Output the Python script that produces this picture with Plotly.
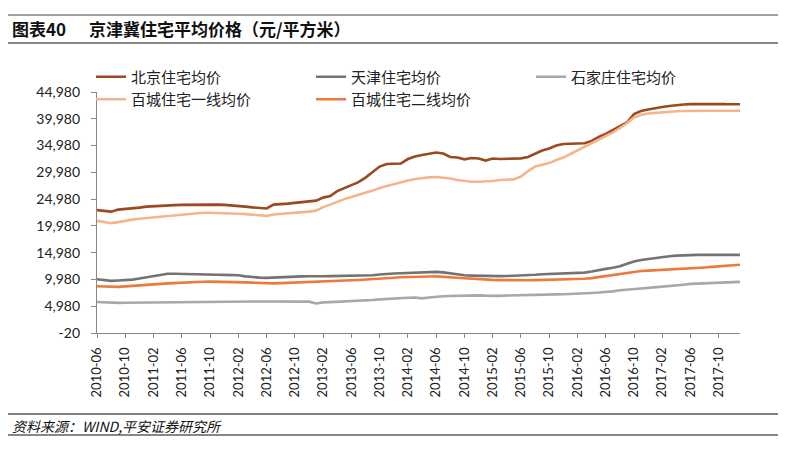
import pandas as pd
import plotly.graph_objects as go

months = pd.date_range("2010-06-01", periods=92, freq="MS").strftime("%Y-%m").tolist()

tick_labels = ["2010-06", "2010-10", "2011-02", "2011-06", "2011-10", "2012-02", "2012-06",
               "2012-10", "2013-02", "2013-06", "2013-10", "2014-02", "2014-06", "2014-10",
               "2015-02", "2015-06", "2015-10", "2016-02", "2016-06", "2016-10", "2017-02",
               "2017-06", "2017-10"]
y_ticks = [-20, 4980, 9980, 14980, 19980, 24980, 29980, 34980, 39980, 44980]
y_tick_text = ["-20", "4,980", "9,980", "14,980", "19,980", "24,980", "29,980",
               "34,980", "39,980", "44,980"]

beijing = [22930, 22830, 22640, 23020, 23110, 23300, 23390, 23580, 23670, 23800,
           23860, 23860, 23900, 23930, 23970, 23990, 23990, 23950, 23900, 23820,
           23710, 23580, 23430, 23300, 23240, 23950, 23990, 24140, 24270, 24420,
           24510, 24700, 25260, 25540, 26480, 27040, 27510, 28160, 29000, 30030,
           31060, 31530, 31530, 31620, 32460, 32930, 33210, 33400, 33680, 33490,
           32840, 32740, 32410, 32650, 32560, 32180, 32560, 32460, 32460, 32500,
           32590, 32840, 33400, 34050, 34430, 34990, 35270, 35300, 35360, 35420,
           35830, 36570, 37140, 37890, 38540, 39290, 40880, 41440, 41720, 42000,
           42190, 42370, 42560, 42650, 42710, 42750, 42750, 42750, 42750, 42710,
           42690, 42690]

tianjin = [10020, 9900, 9720, 9780, 9830, 9950, 10150, 10350, 10600, 10850,
           11050, 11050, 11000, 10960, 10950, 10920, 10900, 10870, 10840, 10800,
           10770, 10550, 10400, 10320, 10270, 10350, 10420, 10450, 10500, 10560,
           10580, 10530, 10580, 10600, 10620, 10640, 10660, 10680, 10730, 10770,
           10900, 11050, 11100, 11150, 11200, 11240, 11270, 11320, 11390, 11300,
           11100, 10900, 10750, 10700, 10650, 10600, 10580, 10600, 10620, 10650,
           10700, 10780, 10860, 10950, 11000, 11050, 11080, 11100, 11150, 11250,
           11450, 11750, 11950, 12150, 12450, 12900, 13350, 13600, 13800, 14000,
           14150, 14300, 14420, 14500, 14550, 14570, 14570, 14570, 14570, 14570,
           14570, 14570]

shijiazhuang = [5780, 5680, 5600, 5600, 5620, 5640, 5660, 5680, 5700, 5720,
                5740, 5760, 5780, 5800, 5820, 5830, 5840, 5850, 5860, 5870,
                5880, 5880, 5870, 5860, 5850, 5860, 5870, 5880, 5870, 5850,
                5830, 5500, 5700, 5750, 5800, 5900, 6000, 6050, 6100, 6150,
                6250, 6350, 6400, 6450, 6550, 6600, 6450, 6600, 6750, 6850,
                6900, 6950, 7000, 7030, 7000, 6950, 6900, 6920, 6980, 7030,
                7080, 7130, 7180, 7220, 7220, 7200, 7220, 7250, 7300, 7380,
                7460, 7530, 7620, 7750, 7950, 8100, 8200, 8300, 8400, 8500,
                8580, 8700, 8850, 9000, 9150, 9220, 9280, 9350, 9420, 9480,
                9500, 9520]

tier1 = [20920, 20720, 20490, 20680, 20960, 21150, 21300, 21430, 21520, 21650,
         21800, 21900, 22080, 22270, 22360, 22420, 22440, 22420, 22360, 22310,
         22250, 22180, 22120, 21930, 21860, 22120, 22220, 22270, 22360, 22490,
         22640, 22830, 23490, 23950, 24510, 24980, 25360, 25730, 26110, 26570,
         27040, 27420, 27790, 28160, 28440, 28720, 28910, 29040, 29100, 29000,
         28820, 28540, 28350, 28220, 28220, 28260, 28350, 28540, 28630, 28670,
         29190, 30220, 31060, 31430, 31710, 32280, 32740, 33400, 34050, 34710,
         35360, 36010, 36670, 37420, 38260, 39140, 40220, 40730, 40970, 41100,
         41250, 41310, 41380, 41440, 41480, 41490, 41490, 41490, 41490, 41490,
         41490, 41490]

tier2 = [8700, 8650, 8580, 8600, 8680, 8750, 8850, 8950, 9050, 9150,
         9250, 9330, 9400, 9460, 9520, 9560, 9580, 9580, 9560, 9530,
         9500, 9440, 9380, 9300, 9220, 9250, 9300, 9340, 9370, 9420,
         9480, 9540, 9600, 9650, 9700, 9760, 9820, 9880, 9940, 10000,
         10100, 10200, 10300, 10380, 10450, 10500, 10520, 10540, 10550, 10500,
         10400, 10300, 10200, 10100, 10020, 9950, 9900, 9860, 9830, 9820,
         9820, 9830, 9850, 9870, 9900, 9930, 9960, 10000, 10030, 10100,
         10220, 10420, 10620, 10820, 11000, 11200, 11450, 11560, 11620, 11680,
         11750, 11820, 11900, 11980, 12060, 12140, 12220, 12320, 12420, 12520,
         12620, 12720]

series = [
    ("北京住宅均价", beijing, "#9B4A1F"),
    ("天津住宅均价", tianjin, "#737373"),
    ("石家庄住宅均价", shijiazhuang, "#A8A8A8"),
    ("百城住宅一线均价", tier1, "#F5B58C"),
    ("百城住宅二线均价", tier2, "#EB7A3D"),
]

FONT = "Lato, 'Noto Sans CJK SC', sans-serif"
CJK = "'Noto Sans CJK SC', sans-serif"

# paper region (pixels): x 80..740, y 60..333 ; plot area x 97..740, y 92..333
ML, MR, MT, MB = 80, 50, 60, 119
PW, PH = 790 - ML - MR, 452 - MT - MB


def px(x):
    return (x - ML) / PW


def py(y):
    return (452 - MB - y) / PH


fig = go.Figure()
for name, vals, color in series:
    fig.add_trace(go.Scatter(x=months, y=vals, mode="lines", name=name,
                             line=dict(color=color, width=2.6)))

fig.update_layout(
    width=790, height=452,
    margin=dict(l=ML, r=MR, t=MT, b=MB),
    paper_bgcolor="white", plot_bgcolor="white",
    font=dict(family=FONT, size=13, color="#222"),
    showlegend=True,
    legend=dict(orientation="h", x=px(91), xanchor="left", y=py(60.5), yanchor="top",
                entrywidth=175, entrywidthmode="pixels",
                font=dict(family=CJK, size=15, color="#222"),
                itemwidth=30, tracegroupgap=0, bgcolor="rgba(0,0,0,0)"),
)

fig.update_xaxes(type="category", range=[0, 91], domain=[px(97), 1], tickmode="array",
                 tickvals=tick_labels, ticktext=tick_labels, tickangle=-90,
                 ticks="outside", ticklen=4, tickcolor="#888", ticklabelstandoff=4,
                 showline=True, linecolor="#888", linewidth=1.3,
                 showgrid=False, zeroline=False,
                 tickfont=dict(family=FONT, size=13, color="#222"))
fig.update_yaxes(range=[-20, 44980], domain=[0, py(92)], tickmode="array",
                 tickvals=y_ticks, ticktext=y_tick_text,
                 ticks="outside", ticklen=5, tickcolor="#888", ticklabelstandoff=8,
                 showline=True, linecolor="#888", linewidth=1.3,
                 showgrid=False, zeroline=False,
                 tickfont=dict(family=FONT, size=14, color="#222"))

# title and footer
fig.add_annotation(text="<b>图表40</b>", xref="paper", yref="paper",
                   x=px(10), y=py(29), xanchor="left", yanchor="middle",
                   showarrow=False, font=dict(family=CJK, size=17, color="#111"))
fig.add_annotation(text="<b>京津冀住宅平均价格（元/平方米）</b>", xref="paper", yref="paper",
                   x=px(87), y=py(29), xanchor="left", yanchor="middle",
                   showarrow=False, font=dict(family=CJK, size=17, color="#111"))
fig.add_annotation(text="<i>资料来源：WIND,平安证券研究所</i>", xref="paper", yref="paper",
                   x=px(10), y=py(426), xanchor="left", yanchor="middle",
                   showarrow=False, font=dict(family=CJK, size=14, color="#111"))


def hline(ypx, color, width):
    fig.add_shape(type="line", xref="paper", yref="paper",
                  x0=px(8), x1=px(778), y0=py(ypx), y1=py(ypx),
                  line=dict(color=color, width=width))


hline(15, "#808080", 1.5)
hline(43, "#111111", 1.2)
hline(414, "#808080", 2)
hline(435, "#111111", 1.2)

fig.write_html("out.html", config={"displayModeBar": False},
               post_script="document.body.style.margin='0';")
